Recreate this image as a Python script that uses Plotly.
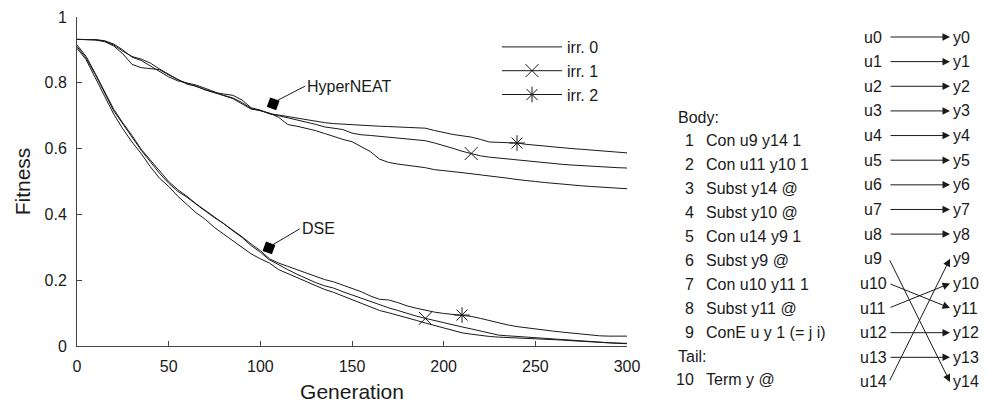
import plotly.graph_objects as go

# generations sampled every 5
generation = list(range(0, 301, 5))

hyper_irr0 = [0.932, 0.932, 0.931, 0.928, 0.918, 0.900, 0.878, 0.868, 0.852, 0.834,
              0.818, 0.806, 0.800, 0.793, 0.783, 0.772, 0.762, 0.754, 0.740, 0.722,
              0.716, 0.708, 0.695, 0.673, 0.668, 0.662, 0.655, 0.646, 0.636, 0.628,
              0.621, 0.607, 0.591, 0.568, 0.558, 0.553, 0.550, 0.546, 0.542, 0.536,
              0.532, 0.530, 0.527, 0.524, 0.521, 0.518, 0.515, 0.510, 0.506, 0.502,
              0.500, 0.497, 0.494, 0.491, 0.490, 0.487, 0.485, 0.483, 0.481, 0.480, 0.478]
hyper_irr1 = [0.932, 0.932, 0.930, 0.925, 0.912, 0.888, 0.856, 0.846, 0.844, 0.840,
              0.824, 0.810, 0.796, 0.790, 0.778, 0.770, 0.760, 0.752, 0.736, 0.720,
              0.716, 0.706, 0.700, 0.694, 0.688, 0.682, 0.674, 0.666, 0.662, 0.658,
              0.647, 0.642, 0.640, 0.637, 0.635, 0.632, 0.630, 0.627, 0.624, 0.617,
              0.610, 0.601, 0.592, 0.585, 0.578, 0.574, 0.571, 0.568, 0.565, 0.562,
              0.560, 0.557, 0.555, 0.552, 0.550, 0.548, 0.546, 0.545, 0.543, 0.542, 0.541]
hyper_irr2 = [0.932, 0.932, 0.931, 0.927, 0.915, 0.896, 0.880, 0.872, 0.860, 0.842,
              0.826, 0.810, 0.798, 0.788, 0.780, 0.770, 0.766, 0.762, 0.748, 0.724,
              0.717, 0.706, 0.702, 0.697, 0.693, 0.688, 0.683, 0.679, 0.676, 0.674,
              0.672, 0.671, 0.669, 0.668, 0.667, 0.666, 0.665, 0.664, 0.662, 0.655,
              0.648, 0.643, 0.639, 0.635, 0.628, 0.620, 0.619, 0.618, 0.617, 0.613,
              0.610, 0.607, 0.604, 0.602, 0.600, 0.598, 0.596, 0.594, 0.591, 0.589, 0.587]

dse_irr0 = [0.905, 0.870, 0.815, 0.760, 0.705, 0.660, 0.620, 0.585, 0.545, 0.510,
            0.485, 0.455, 0.430, 0.405, 0.385, 0.360, 0.340, 0.320, 0.300, 0.280,
            0.265, 0.252, 0.232, 0.220, 0.208, 0.196, 0.185, 0.172, 0.163, 0.152,
            0.139, 0.130, 0.118, 0.108, 0.101, 0.094, 0.085, 0.078, 0.070, 0.062,
            0.054, 0.046, 0.040, 0.036, 0.032, 0.029, 0.027, 0.026, 0.025, 0.023,
            0.022, 0.021, 0.020, 0.018, 0.016, 0.014, 0.012, 0.010, 0.009, 0.008, 0.007]
dse_irr1 = [0.910, 0.875, 0.825, 0.770, 0.715, 0.675, 0.635, 0.595, 0.560, 0.525,
            0.495, 0.470, 0.452, 0.430, 0.410, 0.390, 0.372, 0.350, 0.330, 0.305,
            0.285, 0.262, 0.246, 0.232, 0.218, 0.205, 0.193, 0.183, 0.176, 0.165,
            0.155, 0.145, 0.135, 0.124, 0.116, 0.108, 0.099, 0.091, 0.084, 0.077,
            0.070, 0.064, 0.058, 0.052, 0.045, 0.038, 0.033, 0.031, 0.029, 0.027,
            0.025, 0.023, 0.020, 0.018, 0.016, 0.014, 0.012, 0.011, 0.010, 0.009, 0.008]
dse_irr2 = [0.915, 0.880, 0.828, 0.775, 0.720, 0.678, 0.640, 0.598, 0.565, 0.530,
            0.500, 0.475, 0.455, 0.432, 0.412, 0.392, 0.374, 0.352, 0.332, 0.310,
            0.290, 0.265, 0.252, 0.242, 0.232, 0.222, 0.212, 0.202, 0.195, 0.186,
            0.175, 0.165, 0.152, 0.142, 0.140, 0.132, 0.122, 0.115, 0.108, 0.103,
            0.099, 0.096, 0.094, 0.090, 0.084, 0.077, 0.070, 0.064, 0.059, 0.055,
            0.052, 0.048, 0.045, 0.042, 0.039, 0.036, 0.033, 0.031, 0.030, 0.030, 0.030]

# generations where the single legend marker sits on each curve
marker_gen = {"hyper_irr1": 215, "hyper_irr2": 240, "dse_irr1": 190, "dse_irr2": 210}

legend_names = ["irr. 0", "irr. 1", "irr. 2"]

program_body = ["Con u9 y14 1", "Con u11 y10 1", "Subst y14 @", "Subst y10 @",
                "Con u14 y9 1", "Subst y9 @", "Con u10 y11 1", "Subst y11 @",
                "ConE u y 1 (= j i)"]
program_tail = ["Term y @"]

# output index that each input u_i is wired to
wiring = [0, 1, 2, 3, 4, 5, 6, 7, 8, 14, 11, 10, 12, 13, 9]

FONT = "Liberation Sans, Arial, sans-serif"
INK = "#1a1a1a"
OFF = 8  # page body margin
W, H = 993 - OFF, 404 - OFF
ML, MR, MT, MB = 77 - OFF, 3, 10 - OFF, 2


def px(p):
    # window pixel -> paper x
    return (p - OFF - ML) / (W - ML - MR)


def py(p):
    # window pixel -> paper y
    return (H - MB - (p - OFF)) / (H - MT - MB)


ROW0, ROWSTEP = 37, 24.64  # window y of u0 row, row spacing

fig = go.Figure()

curves = [(hyper_irr0, None), (hyper_irr1, "hyper_irr1"), (hyper_irr2, "hyper_irr2"),
          (dse_irr0, None), (dse_irr1, "dse_irr1"), (dse_irr2, "dse_irr2")]
for ys, key in curves:
    fig.add_trace(go.Scatter(x=generation, y=ys, mode="lines",
                             line=dict(color=INK, width=1), showlegend=False,
                             hoverinfo="skip"))
    if key:
        i = generation.index(marker_gen[key])
        sym = "x-thin-open" if "irr1" in key else "asterisk-open"
        fig.add_trace(go.Scatter(x=[generation[i]], y=[ys[i]], mode="markers",
                                 marker=dict(symbol=sym, size=13, color=INK,
                                             line=dict(width=1, color=INK)),
                                 showlegend=False))

# legend entries
for name, sym in zip(legend_names, [None, "x-thin-open", "asterisk-open"]):
    fig.add_trace(go.Scatter(
        x=[None], y=[None], name=name, legendgroup=name,
        mode="lines" if sym is None else "lines+markers",
        line=dict(color=INK, width=1),
        marker=dict(symbol=sym or "circle", size=13, color=INK,
                    line=dict(width=1, color=INK))))

# black squares with labels
labels = [("HyperNEAT", 107, 0.736, 109.5, 0.747, 124.5, 0.79),
          ("DSE", 104.7, 0.298, 106.5, 0.307, 121.5, 0.356)]
fig.add_trace(go.Scatter(x=[l[1] for l in labels], y=[l[2] for l in labels],
                         mode="markers", showlegend=False,
                         marker=dict(symbol="square", size=10, angle=20, color="black")))
for text, _, _, hx, hy, tx, ty in labels:
    fig.add_annotation(x=hx, y=hy, ax=tx, ay=ty, axref="x", ayref="y",
                       text=text, showarrow=True, arrowhead=0, arrowwidth=1,
                       arrowcolor=INK, xanchor="left", yanchor="middle",
                       font=dict(size=16, color=INK, family=FONT))

# program listing
rows = ["Body:"] + program_body + ["Tail:"] + program_tail
nums = [None] + list(range(1, len(program_body) + 1)) + [None] + \
       list(range(len(program_body) + 1, len(program_body) + 1 + len(program_tail)))
for k, (txt, n) in enumerate(zip(rows, nums)):
    yy = py(117 + 23.9 * k)
    if n is None:
        fig.add_annotation(x=px(676), y=yy, xref="paper", yref="paper", text=txt,
                           showarrow=False, xanchor="left", yanchor="middle",
                           font=dict(size=16, color=INK, family=FONT))
    else:
        fig.add_annotation(x=px(696), y=yy, xref="paper", yref="paper", text=str(n),
                           showarrow=False, xanchor="right", yanchor="middle",
                           font=dict(size=16, color=INK, family=FONT))
        fig.add_annotation(x=px(704), y=yy, xref="paper", yref="paper", text=txt,
                           showarrow=False, xanchor="left", yanchor="middle",
                           font=dict(size=16, color=INK, family=FONT))

# wiring diagram on its own axes (x2: pixels from 660, y2: row index)
for i, j in enumerate(wiring):
    fig.add_annotation(x=213, y=i, xref="x2", yref="y2", text=f"u{i}", showarrow=False,
                       xanchor="center", yanchor="middle",
                       font=dict(size=16, color=INK, family=FONT))
    fig.add_annotation(x=291, y=i, xref="x2", yref="y2", text=f"y{i}", showarrow=False,
                       xanchor="left", yanchor="middle",
                       font=dict(size=16, color=INK, family=FONT))
    fig.add_annotation(x=290, y=j, ax=229, ay=i, xref="x2", yref="y2",
                       axref="x2", ayref="y2", text="", showarrow=True,
                       arrowhead=2, arrowsize=1.5, arrowwidth=1, arrowcolor=INK,
                       standoff=0, startstandoff=0)

axis_common = dict(showline=True, linecolor="#444", linewidth=1, ticks="inside",
                   ticklen=5, tickcolor="#444", showgrid=False, zeroline=False,
                   tickfont=dict(size=16, color=INK, family=FONT),
                   ticklabelstandoff=6, automargin=False)

top_win, bot_win = MT + OFF, H - MB + OFF
fig.update_layout(
    width=W, height=H,
    margin=dict(l=ML, r=MR, t=MT, b=MB),
    paper_bgcolor="white", plot_bgcolor="white",
    font=dict(family=FONT, color=INK),
    xaxis=dict(domain=[0, px(627)], range=[0, 300], tickvals=[0, 50, 100, 150, 200, 250, 300],
               title=dict(text="Generation", font=dict(size=21), standoff=10),
               **axis_common),
    yaxis=dict(domain=[py(346), py(17)], range=[0, 1], tickvals=[0, 0.2, 0.4, 0.6, 0.8, 1],
               title=dict(text="Fitness", font=dict(size=21), standoff=8),
               **axis_common),
    xaxis2=dict(domain=[px(660), 1], range=[0, 330], visible=False, anchor="y2",
                automargin=False),
    yaxis2=dict(domain=[0, 1],
                range=[(bot_win - ROW0) / ROWSTEP, (top_win - ROW0) / ROWSTEP],
                visible=False, anchor="x2", automargin=False),
    legend=dict(x=px(497), y=py(30), xanchor="left", yanchor="top",
                font=dict(size=16, color=INK, family=FONT), bgcolor="rgba(0,0,0,0)",
                itemwidth=60, tracegroupgap=0),
    showlegend=True,
)

fig.write_html("out.html")
